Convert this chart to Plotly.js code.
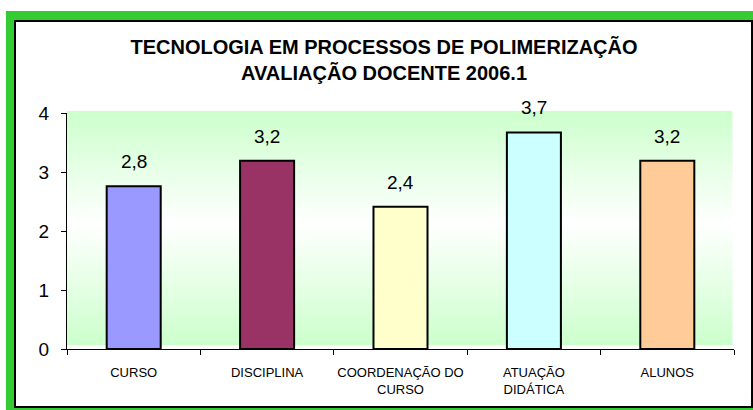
<!DOCTYPE html>
<html>
<head>
<meta charset="utf-8">
<script src="https://cdn.plot.ly/plotly-3.0.1.min.js"></script>
<style>
  html, body { margin: 0; padding: 0; background: #ffffff; }
  #wrap { position: relative; width: 753px; height: 410px; overflow: hidden; }
  #green { position: absolute; left: 6px; top: 11px; width: 747px; height: 399px; background: #33CC33; }
  #inner { position: absolute; left: 14px; top: 20px; width: 739px; height: 388px; box-sizing: border-box; border: 2px solid #000; background: #ffffff; }
  #chart { position: absolute; left: 0; top: 0; width: 753px; height: 410px; }
</style>
</head>
<body>
<div id="wrap">
  <div id="green"></div>
  <div id="inner"></div>
  <div id="chart"></div>
</div>
<script>
// Data
const categories = ["CURSO", "DISCIPLINA", "COORDENAÇÃO DO<br>CURSO", "ATUAÇÃO<br>DIDÁTICA", "ALUNOS"];
const values = [2.76, 3.19, 2.41, 3.67, 3.19];
const valueLabels = ["2,8", "3,2", "2,4", "3,7", "3,2"];
const barColors = ["#9999FF", "#993366", "#FFFFCC", "#CCFFFF", "#FFCC99"];
const yTickVals = [0, 1, 2, 3, 4];
const titleText = "TECNOLOGIA EM PROCESSOS DE POLIMERIZAÇÃO<br>AVALIAÇÃO DOCENTE 2006.1";

const FONT = "Liberation Sans, Arial, sans-serif";

const svg = '<svg xmlns="http://www.w3.org/2000/svg" width="100" height="100" preserveAspectRatio="none">' +
  '<defs><linearGradient id="g" x1="0" y1="0" x2="0" y2="1">' +
  '<stop offset="0" stop-color="#CCFFCC"/><stop offset="0.48" stop-color="#FFFFFF"/><stop offset="1" stop-color="#CCFFCC"/>' +
  '</linearGradient></defs><rect width="100" height="100" fill="url(#g)"/></svg>';
const bgSrc = 'data:image/svg+xml;charset=utf-8,' + encodeURIComponent(svg);

const trace = {
  type: 'bar',
  x: categories,
  y: values,
  marker: { color: barColors, line: { color: '#000000', width: 2 } },
  hoverinfo: 'skip'
};

const annotations = categories.map((c, i) => ({
  x: c, y: values[i], xref: 'x', yref: 'y',
  text: valueLabels[i], showarrow: false,
  yanchor: 'bottom', yshift: 12,
  font: { family: FONT, size: 19, color: '#000' }
}));

const layout = {
  width: 753, height: 410,
  margin: { l: 67, r: 19, t: 113, b: 61, pad: 0 },
  paper_bgcolor: 'rgba(0,0,0,0)',
  plot_bgcolor: 'rgba(0,0,0,0)',
  showlegend: false,
  bargap: 0.595,
  title: {
    text: titleText,
    font: { family: FONT, size: 20, color: '#000', weight: 'bold' },
    x: 0.51, xanchor: 'center', xref: 'container',
    y: 1 - 54 / 410, yanchor: 'top', yref: 'container'
  },
  xaxis: {
    type: 'category',
    showline: true, linecolor: '#000', linewidth: 1,
    ticks: 'outside', tickson: 'boundaries', ticklen: 5, tickcolor: '#000', tickwidth: 1,
    showgrid: false, zeroline: false,
    tickangle: 0,
    tickfont: { family: FONT, size: 13, color: '#000' },
    ticklabelstandoff: 11,
    automargin: false,
    fixedrange: true
  },
  yaxis: {
    range: [0, 4],
    tickvals: yTickVals,
    showline: true, linecolor: '#000', linewidth: 1,
    ticks: 'outside', ticklen: 5, tickcolor: '#000', tickwidth: 1,
    showgrid: false, zeroline: false,
    tickfont: { family: FONT, size: 19, color: '#000' },
    ticklabelstandoff: 8,
    fixedrange: true
  },
  images: [{
    source: bgSrc, xref: 'paper', yref: 'paper',
    x: 0, y: 1.01, sizex: 0.998, sizey: 0.995,
    sizing: 'stretch', layer: 'below', xanchor: 'left', yanchor: 'top'
  }],
  annotations: annotations
};

Plotly.newPlot('chart', [trace], layout, { staticPlot: true, displayModeBar: false });
</script>
</body>
</html>
